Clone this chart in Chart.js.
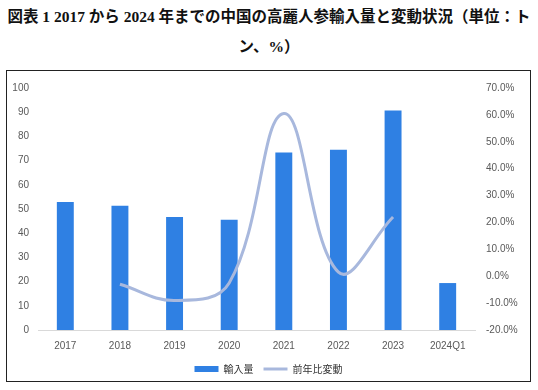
<!DOCTYPE html>
<html>
<head>
<meta charset="utf-8">
<script src="https://cdn.jsdelivr.net/npm/chart.js@4/dist/chart.umd.min.js"></script>
<style>
body{margin:0;background:#fff;width:538px;height:390px;overflow:hidden;position:relative}
#titulo{position:absolute;left:0;top:2px;width:538px;text-align:center;font-family:"Liberation Serif","Noto Sans CJK JP",serif;font-weight:bold;font-size:15.5px;line-height:30px;color:#111}
#caixa{position:absolute;left:6px;top:70px;width:523px;height:310px;border:1px solid #222;overflow:hidden}
#chart{position:absolute;left:0;top:0}
</style>
</head>
<body>
<div id="titulo">図表 1 2017 から 2024 年までの中国の高麗人参輸入量と変動状況（単位：ト<br>ン、%）</div>
<div id="caixa"><canvas id="chart" width="523" height="313"></canvas></div>
<script>
let anos = ['2017','2018','2019','2020','2021','2022','2023','2024Q1']//categorias
let importacao = [52.9, 51.3, 46.7, 45.6, 73.3, 74.5, 90.7, 19.4]//輸入量 (トン)
let variacao = [null, -3.0, -9.0, -2.5, 60.5, 1.5, 22.0, null]//前年比変動 (%)
let ticksEsq = [0,10,20,30,40,50,60,70,80,90,100]
let ticksDir = [-20,-10,0,10,20,30,40,50,60,70]

let fonteTick = {family:'"Liberation Sans", Arial, sans-serif', size:10}

const ctx = document.getElementById('chart').getContext('2d')
const grafico = new Chart(ctx, {
  data: {
    labels: anos,
    datasets: [{
      type: 'bar',
      label: '輸入量',
      data: importacao,
      backgroundColor: '#2f80e3',
      borderWidth: 0,
      barPercentage: 0.31,
      categoryPercentage: 1,
      pointStyle: 'rect',
      yAxisID: 'y',
      order: 2
    }, {
      type: 'line',
      label: '前年比変動',
      data: variacao,
      borderColor: '#a8b8dd',
      backgroundColor: '#a8b8dd',
      borderWidth: 3,
      pointRadius: 0,
      pointStyle: 'line',
      tension: 0.4,
      yAxisID: 'y1',
      order: 1
    }]
  },
  options: {
    responsive: false,
    animation: false,
    layout: {padding: {top: 11, left: 0, right: 0, bottom: 0}},
    plugins: {
      tooltip: {enabled: false},
      legend: {
        position: 'bottom',
        labels: {
          usePointStyle: true,
          pointStyleWidth: 24,
          boxHeight: 6,
          padding: 10,
          color: '#333',
          font: {family: '"Noto Sans CJK JP", sans-serif', size: 10},
          sort: (a, b) => a.datasetIndex - b.datasetIndex
        }
      }
    },
    scales: {
      x: {
        grid: {display: false, drawTicks: false},
        border: {display: true, color: '#d9d9d9', width: 1},
        ticks: {color: '#595959', font: fonteTick, padding: 10, maxRotation: 0},
        afterFit: s => { s.height = 24 }
      },
      y: {
        position: 'left',
        min: 0, max: 100,
        grid: {display: false, drawTicks: false},
        border: {display: false},
        afterBuildTicks: s => { s.ticks = ticksEsq.map(v => ({value: v})) },
        ticks: {color: '#595959', font: fonteTick, padding: 9},
        afterFit: s => { s.width = 31 }
      },
      y1: {
        position: 'right',
        min: -20, max: 70,
        grid: {display: false, drawTicks: false},
        border: {display: false},
        afterBuildTicks: s => { s.ticks = ticksDir.map(v => ({value: v})) },
        ticks: {color: '#595959', font: fonteTick, padding: 11, callback: v => v.toFixed(1) + '%'},
        afterFit: s => { s.width = 55 }
      }
    }
  }
})
</script>
</body>
</html>
